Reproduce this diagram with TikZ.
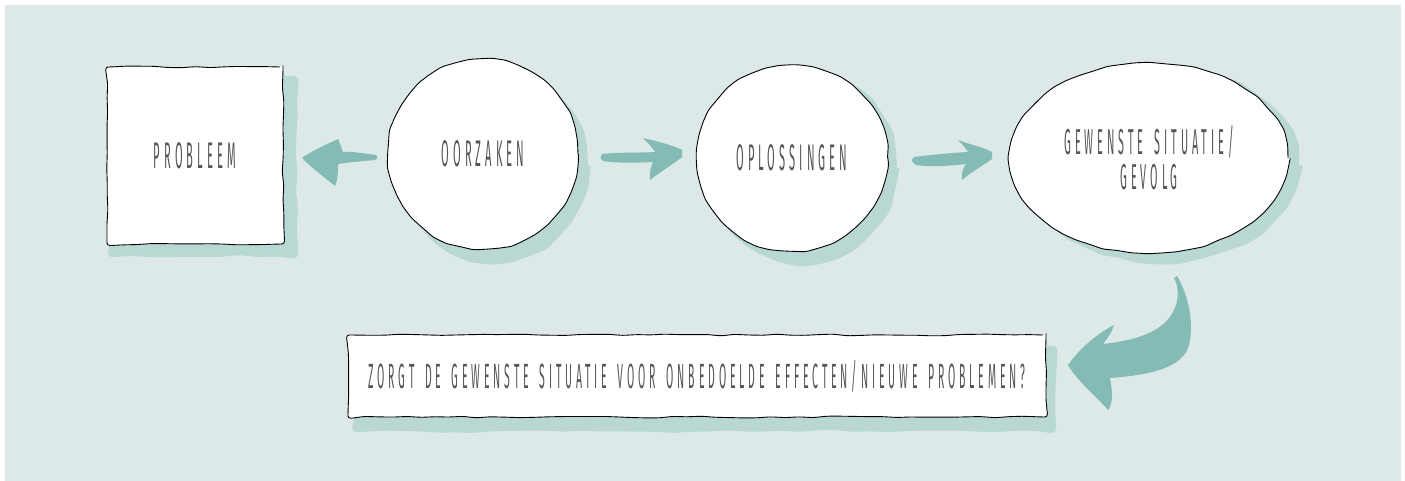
\documentclass[tikz,border=0pt]{standalone}
\usepackage{fontspec}
\newfontfamily\handfont{Fira Sans}[FakeStretch=0.3,LetterSpace=11,WordSpace=1.6]
\usetikzlibrary{shapes.geometric,decorations.pathmorphing,calc}
\definecolor{bgc}{HTML}{DCE9E8}
\definecolor{shc}{HTML}{BAD8D3}
\definecolor{arc}{HTML}{84BBB5}
\definecolor{txc}{HTML}{555555}
\tikzset{
  hand/.style={draw=black, line width=0.9pt, fill=white, inner sep=0pt,
    decorate, decoration={random steps, segment length=14pt, amplitude=0.9pt},
    rounded corners=3pt, font=\handfont\fontsize{37}{31}\selectfont, text=txc, align=center},
  handbox/.style={hand, rectangle},
  handround/.style={hand, ellipse},
  shadow/.style={fill=shc, decorate, decoration={random steps, segment length=18pt, amplitude=1.5pt}, rounded corners=5pt},
  brush/.style={fill=arc}
}
\begin{document}
\begin{tikzpicture}[x=1pt,y=-1pt]
\pgfmathsetseed{11}
\fill[white] (0,0) rectangle (1405,481);
\fill[bgc] (5,5) rectangle (1401,481);
\useasboundingbox (0,0) rectangle (1405,481);

% shadows
\fill[shadow] (112,74) -- (296,76) -- (298,256) -- (110,257) -- cycle;
\fill[shadow] (494,166) ellipse [x radius=94pt, y radius=96pt];
\fill[shadow] (803,168) ellipse [x radius=94pt, y radius=96pt];
\fill[shadow] (1161,165) ellipse [x radius=138pt, y radius=98pt];
\fill[shadow] (356,344) -- (1055,346) -- (1056,431) -- (354,432) -- cycle;

% nodes
\node[handbox, minimum width=176pt, minimum height=177pt] (p) at (195,155.5) {PROBLEEM};
\node[handround, minimum width=190pt, minimum height=190pt] (o) at (483,154) {OORZAKEN};
\node[handround, minimum width=191pt, minimum height=186pt] (l) at (792,158) {OPLOSSINGEN};
\node[handround, minimum width=278pt, minimum height=190pt, font=\handfont\fontsize{36}{35}\selectfont] (g) at (1149,158) {GEWENSTE SITUATIE/\\GEVOLG};
\node[handbox, minimum width=698pt, minimum height=82pt, font=\handfont\fontsize{35}{29}\selectfont] (z) at (697,376) {ZORGT DE GEWENSTE SITUATIE VOOR ONBEDOELDE EFFECTEN/NIEUWE PROBLEMEN?};

% brush arrows
\fill[brush] (376,155) .. controls (360,153) and (350,151) .. (343,152)
  .. controls (341,148) and (340,142) .. (338,139)
  .. controls (325,145) and (310,152) .. (302,158)
  .. controls (312,168) and (325,178) .. (335,186)
  .. controls (338,180) and (338,170) .. (338,164)
  .. controls (350,162) and (365,161) .. (375,160)
  .. controls (378,158) .. cycle;
\fill[brush] (602,154) .. controls (620,152) and (640,153) .. (655,152)
  .. controls (652,147) and (647,142) .. (643,138)
  .. controls (660,142) and (675,146) .. (682,150)
  -- (682,157)
  .. controls (672,165) and (660,172) .. (650,180)
  .. controls (649,173) and (651,167) .. (653,162)
  .. controls (635,163) and (615,163) .. (603,161)
  .. controls (600,158) .. cycle;
\fill[brush] (914,157) .. controls (930,155) and (950,153) .. (968,152)
  .. controls (965,147) and (961,143) .. (958,140)
  .. controls (972,145) and (985,148) .. (992,152)
  -- (992,159)
  .. controls (982,166) and (970,173) .. (962,180)
  .. controls (961,174) and (963,168) .. (966,164)
  .. controls (950,166) and (930,167) .. (916,165)
  .. controls (911,161) .. cycle;
\fill[brush] (1177,276) .. controls (1186,290) and (1195,320) .. (1189,345)
  .. controls (1183,368) and (1150,375) .. (1110,378)
  .. controls (1112,390) and (1114,402) .. (1108,410)
  .. controls (1095,395) and (1078,382) .. (1068,365)
  .. controls (1080,348) and (1098,333) .. (1114,325)
  .. controls (1112,332) and (1108,338) .. (1103,344)
  .. controls (1140,340) and (1165,330) .. (1174,310)
  .. controls (1180,298) and (1178,285) .. (1174,278) -- cycle;
\end{tikzpicture}
\end{document}
